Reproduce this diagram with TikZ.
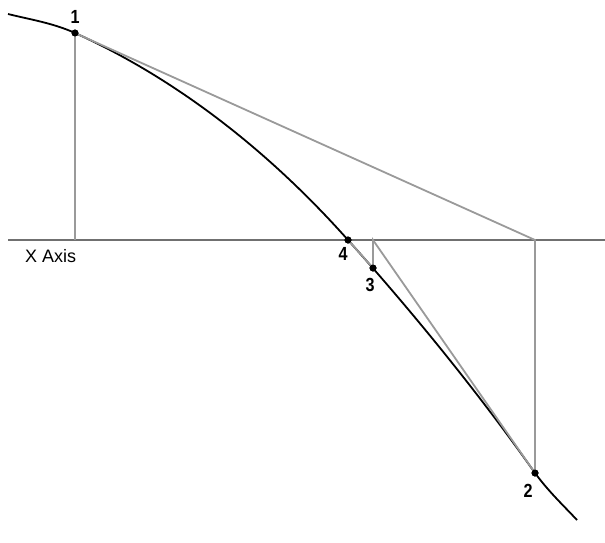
\documentclass[tikz,border=0pt]{standalone}
\usepackage{fontspec}
\setmainfont{Liberation Sans}
\newfontfamily\numfont[FakeStretch=0.85]{Liberation Sans}
\usetikzlibrary{positioning}
\definecolor{nwgray}{HTML}{9A9A9A}
\definecolor{nwaxis}{HTML}{707070}
\begin{document}
\begin{tikzpicture}[x=1pt, y=-1pt,
  every node/.style={font=\fontsize{18}{21}\selectfont},
  curve/.style={line width=1.8pt, black},
  guide/.style={line width=1.8pt, nwgray},
  axis/.style={line width=1.5pt, nwaxis},
  dot/.style={circle, fill=black, inner sep=0pt, minimum size=7pt},
  num/.style={font=\numfont\fontsize{19}{22}\selectfont\bfseries, inner sep=1pt},
]
\useasboundingbox (0,0) rectangle (605,542);
% axis
\coordinate (axL) at (8,240);
\coordinate (axR) at (605,240);
\draw[axis] (axL) -- (axR);
\node[anchor=north west, inner sep=0pt, below right=9pt and 17pt of axL] (xlab) {X Axis};
% iterates
\node[dot] (p1) at (75,33) {};
\node[dot] (p2) at (535,473) {};
\node[dot] (p3) at (373,268) {};
\node[dot] (p4) at (348,240) {};
\coordinate (c0) at (8,14);
\coordinate (c5) at (577,520);
\coordinate (a1) at (75,240);
\coordinate (a2) at (535,240);
\coordinate (a3) at (373,240);
% the function
\draw[curve] (c0) .. controls (30,19.5) and (53,23) .. (p1.center)
  .. controls (175,78) and (268,150) .. (p4.center)
  .. controls (408,307) and (475,388) .. (p2.center)
  .. controls (549,492) and (563,505) .. (c5);
% tangents and verticals
\draw[guide] (p1.center) -- (a1);
\draw[guide] (p1.center) -- (a2) -- (p2.center) -- (a3) -- (p3.center) -- (p4.center);
\node[dot] at (p1) {};
\node[dot] at (p2) {};
\node[dot] at (p3) {};
\node[dot] at (p4) {};
% labels
\node[num, above=5pt of p1] (l1) {1};
\node[num, below=6pt of p2, xshift=-7pt] (l2) {2};
\node[num, below=5pt of p3, xshift=-3pt] (l3) {3};
\node[num, below=3pt of p4, xshift=-5pt] (l4) {4};
\end{tikzpicture}
\end{document}
